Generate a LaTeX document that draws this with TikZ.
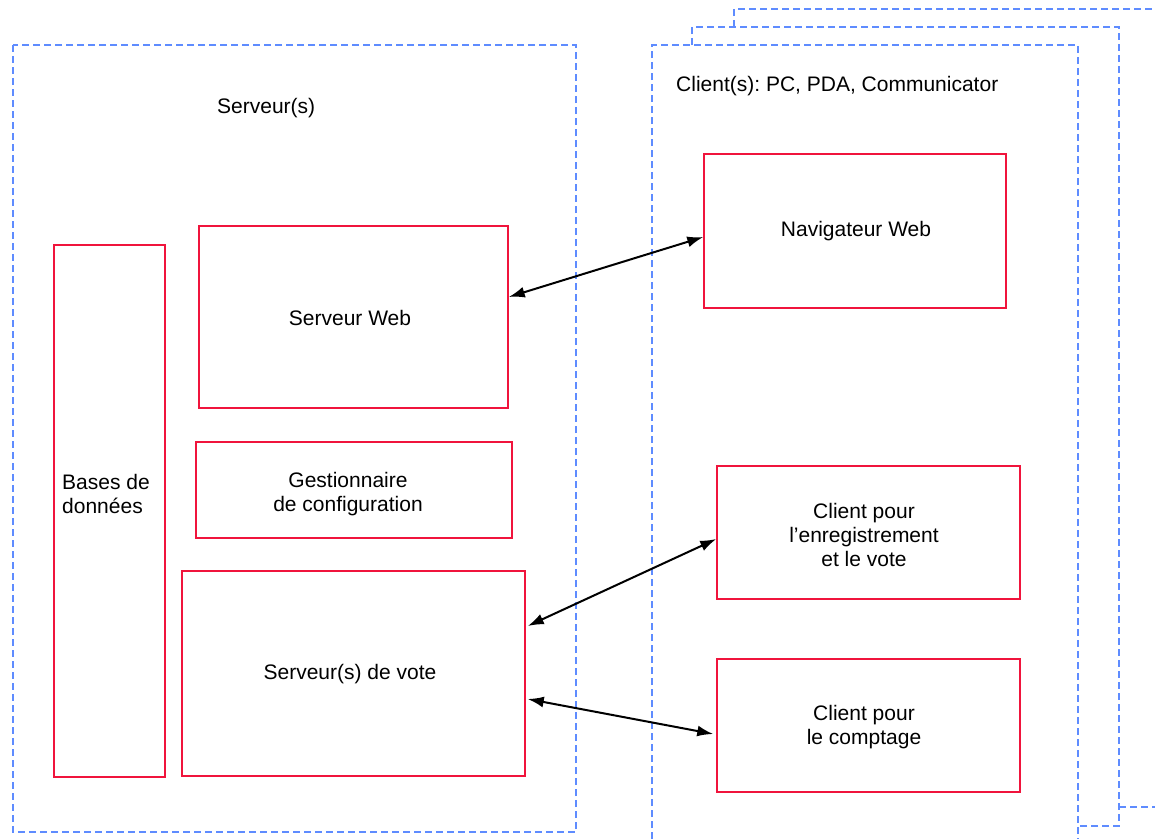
\documentclass[tikz,border=0pt]{standalone}
\usepackage{fontspec}
\setmainfont{Liberation Sans}
\usetikzlibrary{arrows.meta,calc}
\definecolor{boxred}{RGB}{240,20,60}
\definecolor{frameblue}{RGB}{95,140,255}
\frenchspacing
\begin{document}
\begin{tikzpicture}[x=1pt,y=-1pt,
  every node/.style={font=\fontsize{21}{24}\selectfont,align=center},
  redbox/.style={draw=boxred,line width=1.5pt,inner sep=0pt},
  frame/.style={draw=frameblue,line width=2pt,dash pattern=on 7pt off 4pt},
  link/.style={line width=2pt,{Latex[length=16pt,width=11pt]}-{Latex[length=16pt,width=11pt]}}]
\useasboundingbox (0,0) rectangle (1155,838);
% frames
\draw[frame] (13,45) rectangle (576,832);
\draw[frame] (734,27) -- (734,9) -- (1170,9);
\draw[frame] (1119,807) -- (1170,807);
\draw[frame] (692,45) -- (692,27) -- (1119,27) -- (1119,826) -- (1078,826);
\draw[frame] (652,850) -- (652,45) -- (1078,45) -- (1078,850);
\node[anchor=base west,inner sep=0pt] (srvlbl) at (217,113) {Serveur(s)};
\node[anchor=base west,inner sep=0pt] (clilbl) at (676,91) {Client(s): PC, PDA, Communicator};
% boxes
\node[redbox,minimum width=111pt,minimum height=532pt] (db) at (109.5,511) {};
\node[anchor=west,align=left,inner sep=0pt] (dbt) at (62,494) {Bases de\\données};
\node[redbox,minimum width=309pt,minimum height=182pt] (sw) at (353.5,317) {};
\node (swt) at (350,318) {Serveur Web};
\node[redbox,minimum width=316pt,minimum height=96pt] (gc) at (354,490) {};
\node (gct) at (348,494) {Gestionnaire\\de configuration};
\node[redbox,minimum width=343pt,minimum height=205pt] (sv) at (353.5,673.5) {};
\node (svt) at (350,674) {Serveur(s) de vote};
\node[redbox,minimum width=302pt,minimum height=154pt] (nw) at (855,231) {};
\node (nwt) at (856,231) {Navigateur Web};
\node[redbox,minimum width=303pt,minimum height=133pt] (ce) at (868.5,532.5) {};
\node (cet) at (864,535) {Client pour\\l’enregistrement\\et le vote};
\node[redbox,minimum width=303pt,minimum height=133pt] (cc) at (868.5,725.5) {};
\node (cct) at (864,727) {Client pour\\le comptage};
% links
\draw[link] ([yshift=20pt]sw.east) -- ([yshift=-6pt]nw.west);
\draw[link] ([xshift=2pt,yshift=47.5pt]sv.east) -- ([yshift=-6.5pt]ce.west);
\draw[link] ([xshift=2pt,yshift=-25.5pt]sv.east) -- ([xshift=-3pt,yshift=-8.5pt]cc.west);
\end{tikzpicture}
\end{document}
